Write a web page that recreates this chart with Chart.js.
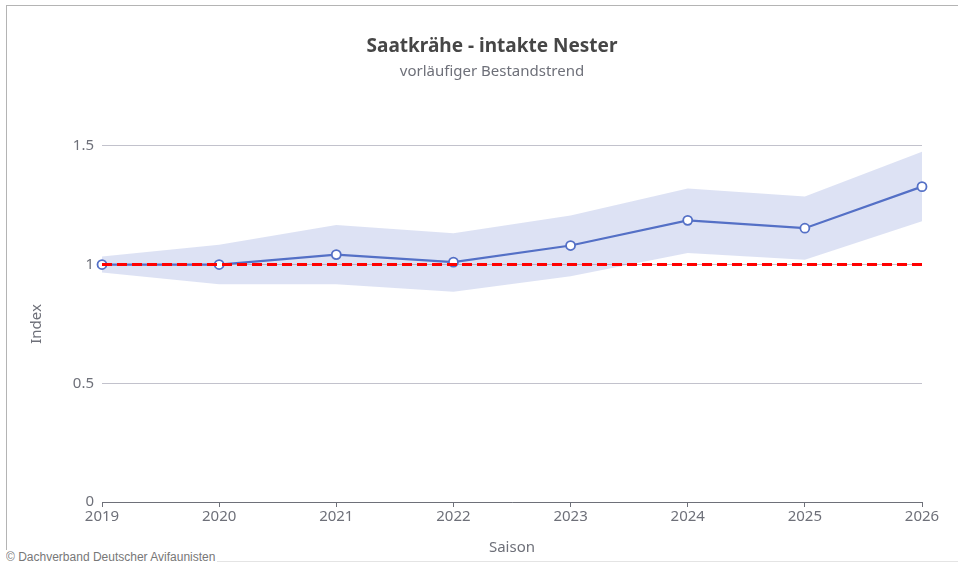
<!DOCTYPE html>
<html lang="de">
<head>
<meta charset="utf-8">
<title>Saatkrähe - intakte Nester</title>
<script src="https://cdn.jsdelivr.net/npm/chart.js@4/dist/chart.umd.min.js"></script>
<style>
    html, body { margin: 0; padding: 0; background: #fff; }
    body { width: 958px; height: 563px; position: relative; overflow: hidden; }
    .rahmen {
        position: absolute; left: 6px; top: 5px; width: 1000px; height: 555px;
        border: 1px solid #b4b4b4; border-bottom-color: #e4e4e4;
    }
    /* der Container ist breiter als das Fenster, wie im Original abgeschnitten */
    .chart-box { position: absolute; left: 0; top: 0; width: 984px; height: 563px; }
    .quelle {
        position: absolute; left: 6px; top: 550px;
        font: 12px "Liberation Sans", Arial, sans-serif; color: #777;
        background: #fff; padding-right: 2px;
    }
</style>
</head>
<body>
<div class="rahmen"></div>
<div class="chart-box"><canvas id="trendChart" width="984" height="563"></canvas></div>
<div class="quelle">© Dachverband Deutscher Avifaunisten</div>
<script>
// Daten
const saisons = ['2019', '2020', '2021', '2022', '2023', '2024', '2025', '2026'];
const indexWerte = [1.0, 1.0, 1.042, 1.01, 1.08, 1.186, 1.153, 1.328];
const obereGrenze = [1.034, 1.083, 1.167, 1.132, 1.206, 1.32, 1.287, 1.475];
const untereGrenze = [0.966, 0.917, 0.917, 0.885, 0.951, 1.049, 1.02, 1.182];
const referenz = [1, 1, 1, 1, 1, 1, 1, 1];
const yTicks = [0, 0.5, 1, 1.5];

Chart.defaults.font.family = "'Noto Sans', sans-serif";
Chart.defaults.color = '#6e7079';

const ctx = document.getElementById('trendChart').getContext('2d');
const trendChart = new Chart(ctx, {
    type: 'line',
    data: {
        labels: saisons,
        datasets: [
            {
                label: 'Referenz',
                data: referenz,
                borderColor: '#ff0000',
                borderWidth: 3,
                borderDash: [10, 5],
                pointRadius: 0,
                fill: false,
                order: 0
            },
            {
                label: 'Index',
                data: indexWerte,
                borderColor: '#5470c6',
                borderWidth: 2.2,
                pointRadius: 4.5,
                pointBorderWidth: 1.8,
                pointBackgroundColor: '#ffffff',
                pointBorderColor: '#5470c6',
                fill: false,
                order: 1
            },
            {
                label: 'Obere Grenze',
                data: obereGrenze,
                borderWidth: 0,
                pointRadius: 0,
                backgroundColor: 'rgba(84, 112, 198, 0.2)',
                fill: '+1',
                order: 2
            },
            {
                label: 'Untere Grenze',
                data: untereGrenze,
                borderWidth: 0,
                pointRadius: 0,
                fill: false,
                order: 3
            }
        ]
    },
    options: {
        responsive: false,
        animation: false,
        layout: { padding: 0 },
        plugins: {
            legend: { display: false },
            tooltip: { enabled: false },
            title: {
                display: true,
                text: 'Saatkrähe - intakte Nester',
                color: '#464646',
                font: { size: 19, weight: 'bold' },
                padding: { top: 35, bottom: 2 }
            },
            subtitle: {
                display: true,
                text: 'vorläufiger Bestandstrend',
                color: '#6e7079',
                font: { size: 15 },
                padding: { top: 3, bottom: 65 }
            }
        },
        scales: {
            x: {
                offset: false,
                afterFit: function(scale) {
                    scale.height = 61;
                    scale.paddingRight = 62;
                },
                grid: {
                    drawOnChartArea: false,
                    drawTicks: true,
                    tickLength: 5,
                    color: '#6e7079'
                },
                border: { display: true, color: '#6e7079' },
                ticks: {
                    autoSkip: false,
                    maxRotation: 0,
                    padding: 1,
                    font: { size: 15 }
                },
                title: {
                    display: true,
                    text: 'Saison',
                    font: { size: 15 },
                    padding: { top: 0, bottom: 6 }
                }
            },
            y: {
                min: 0,
                max: 1.5,
                afterFit: function(scale) { scale.width = 102; },
                afterBuildTicks: function(scale) {
                    scale.ticks = yTicks.map(v => ({ value: v }));
                },
                grid: { drawTicks: false, color: '#c2c2cc' },
                border: { display: false },
                ticks: {
                    padding: 8,
                    font: { size: 15 },
                    callback: function(value) { return String(value); }
                },
                title: {
                    display: true,
                    text: 'Index',
                    font: { size: 15 },
                    padding: { top: 28, bottom: 0 }
                }
            }
        }
    }
});
</script>
</body>
</html>
